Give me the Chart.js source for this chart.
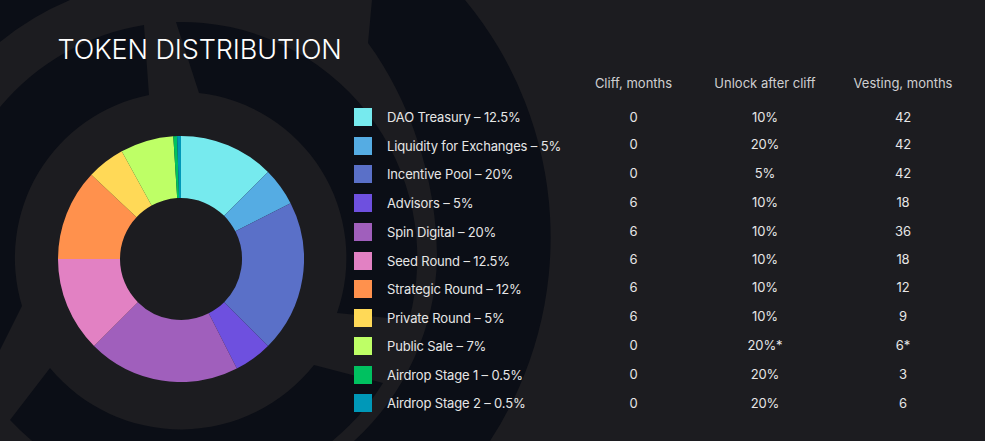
<!DOCTYPE html>
<html>
<head>
<meta charset="utf-8">
<script src="https://cdn.jsdelivr.net/npm/chart.js@4"></script>
<style>
html,body{margin:0;padding:0;background:#1c1c20;overflow:hidden}
#stage{position:relative;width:985px;height:441px;overflow:hidden;font-family:Inter,"Open Sans",sans-serif;font-weight:400;color:#e6e6e6}
#bg{position:absolute;left:0;top:0}
#title{position:absolute;left:57.5px;top:33px;font-size:27px;line-height:33px;font-weight:300;color:#fff;white-space:nowrap;letter-spacing:-.1px}
#chartBox{position:absolute;left:58px;top:136px;width:246px;height:246px}
.t{position:absolute;white-space:nowrap;font-size:13px;line-height:18px;letter-spacing:-.15px;transform:translateY(-50%)}
.c{transform:translate(-50%,-50%);text-align:center}
.h{color:#cfcfd1;letter-spacing:0}
.s{position:absolute;width:18px;height:18px;transform:translateY(-50%)}
</style>
</head>
<body>
<div id="stage">
<svg id="bg" width="985" height="441" viewBox="0 0 985 441">
<rect width="985" height="441" fill="#1c1c20"/>
<g fill="#0b0e16">
<path d="M0,0 L70,0 A282 282 0 0 0 0,42 Z"/>
<path d="M372,0 L368,43 C410,100 437,180 437,258 A256 256 0 0 1 354,441 L490,441 A372 372 0 0 0 465,0 Z"/>
<path d="M176,22 A236 236 0 0 1 409,320 L337,313 A166 166 0 0 0 199,93 Z"/>
<path d="M314,365 L383,383 A236 236 0 0 1 10,420 L50,368 A170 170 0 0 0 314,365 Z"/>
<path d="M144,25 L149,95 A166 166 0 0 0 22,306 L0,350 L0,107 A236 236 0 0 1 144,25 Z"/>
</g>
</svg>
<div id="title">TOKEN DISTRIBUTION</div>
<div id="chartBox"><canvas id="c"></canvas></div>
</div>
<script>
const categories=["DAO Treasury","Liquidity for Exchanges","Incentive Pool","Advisors","Spin Digital","Seed Round","Strategic Round","Private Round","Public Sale","Airdrop Stage 1","Airdrop Stage 2"];
const shares=[12.5,5,20,5,20,12.5,12,5,7,0.5,0.5];
const sliceColors=["#76EAEE","#55ACE3","#5A70C8","#6E50DF","#A05FBC","#E281C3","#FF914D","#FFD957","#BEFF66","#00C160","#0098B8"];
const cliffMonths=["0","0","0","6","6","6","6","6","0","0","0"];
const unlockAfterCliff=["10%","20%","5%","10%","10%","10%","10%","10%","20%*","20%","20%"];
const vestingMonths=["42","42","42","18","36","18","12","9","6*","3","6"];
const tableHeaders=["Cliff, months","Unlock after cliff","Vesting, months"];

const legendRowY=[117,145.5,174,202.5,232,261,289,318,346,375,403];
const tableRowY=[116.5,144,172.5,202,231,258.5,287,316,344.5,373.5,403];
const colX=[633.5,765,903];
const stage=document.getElementById('stage');
function addText(txt,x,y,cls){const d=document.createElement('div');d.className=cls;d.textContent=txt;d.style.left=x+'px';d.style.top=y+'px';stage.appendChild(d);}
categories.forEach((name,i)=>{
  const s=document.createElement('div');s.className='s';s.style.left='354px';s.style.top=legendRowY[i]+'px';s.style.background=sliceColors[i];stage.appendChild(s);
  addText(name+' – '+shares[i]+'%',387,legendRowY[i],'t');
  addText(cliffMonths[i],colX[0],tableRowY[i],'t c');
  addText(unlockAfterCliff[i],colX[1],tableRowY[i],'t c');
  addText(vestingMonths[i],colX[2],tableRowY[i],'t c');
});
tableHeaders.forEach((h,i)=>addText(h,colX[i],83,'t c h'));

new Chart(document.getElementById('c'),{
  type:'doughnut',
  data:{labels:categories,datasets:[{data:shares,backgroundColor:sliceColors,borderWidth:0}]},
  options:{responsive:true,maintainAspectRatio:false,animation:false,cutout:'49.6%',
    layout:{padding:0},
    plugins:{legend:{display:false},tooltip:{enabled:false}}}
});
</script>
</body>
</html>
